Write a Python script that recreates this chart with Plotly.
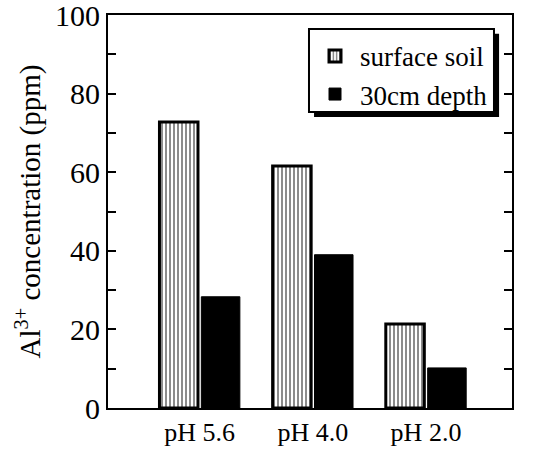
import plotly.graph_objects as go

categories = ["pH 5.6", "pH 4.0", "pH 2.0"]
surface_soil = [72.8, 61.6, 21.4]
depth_30cm = [28.3, 39.0, 10.2]
y_ticks = [0, 20, 40, 60, 80, 100]

FONT = "Liberation Serif, Times New Roman, serif"

fig = go.Figure()
fig.add_trace(go.Bar(
    x=categories, y=surface_soil, name="surface soil",
    marker=dict(color="white", line=dict(color="black", width=3),
                pattern=dict(shape="|", fgcolor="black", bgcolor="white",
                             size=4, solidity=0.45, fillmode="overlay")),
))
fig.add_trace(go.Bar(
    x=categories, y=depth_30cm, name="30cm depth",
    marker=dict(color="black", line=dict(color="black", width=1)),
))

fig.update_layout(
    width=538, height=450,
    margin=dict(l=108, r=26, t=15, b=42, autoexpand=False),
    paper_bgcolor="white", plot_bgcolor="white",
    barmode="group", bargap=0.26, bargroupgap=0.08,
    font=dict(family=FONT, color="black", size=24),
    showlegend=True,
    legend=dict(x=0.5, y=0.957, xanchor="left", yanchor="top",
                bgcolor="rgba(0,0,0,0)", borderwidth=0,
                font=dict(family=FONT, size=27, color="black"),
                tracegroupgap=0, itemwidth=40),
)
fig.update_xaxes(
    range=[-0.81, 2.76], showline=True, linecolor="black", linewidth=2,
    mirror=True, ticks="", showgrid=False, ticklabelstandoff=0,
    automargin=False,
    tickfont=dict(family=FONT, size=26, color="black"),
)
fig.update_yaxes(
    range=[0, 100], tickvals=y_ticks, showline=True, linecolor="black",
    linewidth=2, mirror="allticks", ticks="inside", ticklen=8, tickwidth=2,
    tickcolor="black", showgrid=False, zeroline=False,
    ticklabeloverflow="allow", automargin=False,
    minor=dict(ticks="inside", ticklen=8, tickwidth=2, tickcolor="black", dtick=10),
    tickfont=dict(family=FONT, size=30, color="black"),
    title=dict(text="Al<sup>3+</sup> concentration (ppm)",
               font=dict(family=FONT, size=29, color="black"), standoff=6),
)
# legend drop shadow and box
fig.add_shape(type="rect", xref="paper", yref="paper",
              x0=0.510, x1=0.968, y0=0.7405, y1=0.952,
              fillcolor="black", line=dict(width=0), layer="above")
fig.add_shape(type="rect", xref="paper", yref="paper",
              x0=0.4975, x1=0.9554, y0=0.7532, y1=0.9644,
              fillcolor="white", line=dict(color="black", width=2), layer="above")

fig.write_html("out.html")
